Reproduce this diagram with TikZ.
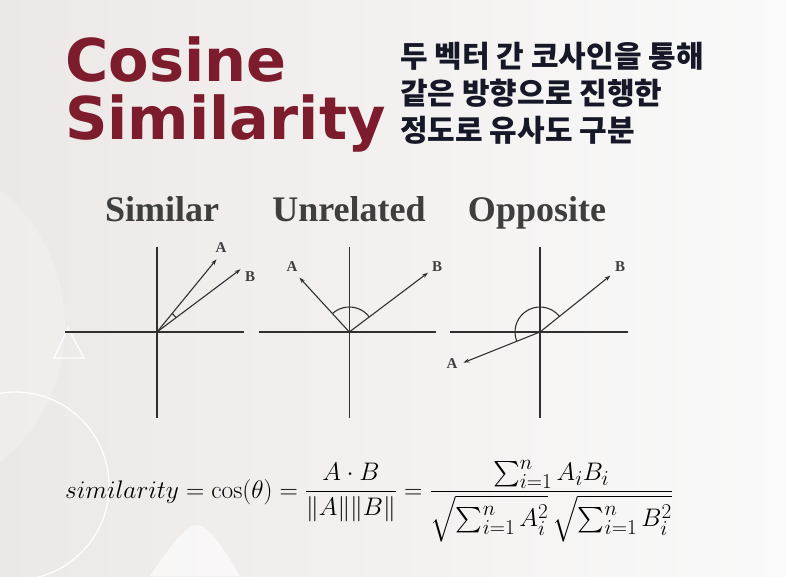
\documentclass[tikz,border=0pt]{standalone}
\usepackage{amsmath}
\usepackage{fontspec}
\usetikzlibrary{arrows.meta, calc}
\newfontfamily\titlefont{DejaVu Sans}
\newfontfamily\krfont{Noto Sans CJK KR}
\newfontfamily\headfont{Liberation Serif}
\definecolor{titlered}{RGB}{124, 28, 44}
\definecolor{krnavy}{RGB}{22, 24, 40}
\definecolor{headgray}{RGB}{62, 62, 62}
\definecolor{axisgray}{RGB}{48, 48, 48}
\definecolor{bgleft}{RGB}{236, 232, 230}
\definecolor{bgright}{RGB}{250, 250, 250}

\begin{document}
\begin{tikzpicture}[x=1pt, y=1pt,
  axisline/.style={axisgray, line width=1.6pt},
  vecline/.style={axisgray, line width=1.1pt, -{Stealth[length=6pt, width=4pt]}},
  anglearc/.style={axisgray, line width=1.1pt},
  veclabel/.style={headgray, font=\headfont\bfseries\fontsize{15}{15}\selectfont, inner sep=0pt},
  heading/.style={headgray, font=\headfont\bfseries\fontsize{36}{36}\selectfont, anchor=base, inner sep=0pt},
  titletext/.style={titlered, font=\titlefont\bfseries\fontsize{59}{59}\selectfont, anchor=base west, inner sep=0pt}]
  \useasboundingbox (0,0) rectangle (786,576);
  % background
  \shade[left color=bgleft, right color=bgright] (0,0) rectangle (786,576);
  \fill[white, opacity=0.2] (-110,250) circle (175);
  \draw[white, line width=1.2pt] (15,90) circle (94);
  \draw[white, line width=1.2pt] (68,248) -- (54,218) -- (84,218) -- cycle;
  \fill[white, opacity=0.6] (150,0) .. controls (170,30) and (185,50) .. (197,51)
    .. controls (210,50) and (225,25) .. (240,0) -- cycle;

  % title
  \node[titletext] (cosine) at (65,494) {Cosine};
  \node[titletext] (similarity) at (65,436) {Similarity};
  \node[krnavy, font=\krfont\bfseries\fontsize{30}{37}\selectfont, anchor=north west,
    align=left, inner sep=0pt] (desc) at (400,534)
    {두 벡터 간 코사인을 통해\\같은 방향으로 진행한\\정도로 유사도 구분};

  % headings
  \node[heading] (hsim) at (162,354) {Similar};
  \node[heading] (hunrel) at (349,354) {Unrelated};
  \node[heading] (hopp) at (537,354) {Opposite};

  % similar
  \coordinate (O1) at (157,244);
  \coordinate (A1) at ($(O1)+(50.7:94)$);
  \coordinate (B1) at ($(O1)+(36.9:104.5)$);
  \draw[axisline] (65,244) -- (244,244);
  \draw[axisline] (157,329) -- (157,158);
  \draw[vecline] (O1) -- (A1);
  \draw[vecline] (O1) -- (B1);
  \draw[anglearc] ($(O1)+(36.9:24)$) arc[start angle=36.9, end angle=50.7, radius=24];
  \node[veclabel] (lA1) at (221,328) {A};
  \node[veclabel] (lB1) at (250,299) {B};

  % unrelated
  \coordinate (O2) at (349.3,244);
  \coordinate (A2) at ($(O2)+(132.5:73.8)$);
  \coordinate (B2) at ($(O2)+(37:98.6)$);
  \draw[axisline] (258.6,244) -- (435.8,244);
  \draw[axisline] (349.3,329) -- (349.3,158);
  \draw[vecline] (O2) -- (A2);
  \draw[vecline] (O2) -- (B2);
  \draw[anglearc] ($(O2)+(37:25)$) arc[start angle=37, end angle=132.5, radius=25];
  \node[veclabel] (lA2) at (292,309) {A};
  \node[veclabel] (lB2) at (437,309) {B};

  % opposite
  \coordinate (O3) at (540,244);
  \coordinate (A3) at ($(O3)+(201.8:82.5)$);
  \coordinate (B3) at ($(O3)+(38.7:90.3)$);
  \draw[axisline] (450,244) -- (628,244);
  \draw[axisline] (540,329) -- (540,158);
  \draw[vecline] (O3) -- (A3);
  \draw[vecline] (O3) -- (B3);
  \draw[anglearc] ($(O3)+(38.7:25)$) arc[start angle=38.7, end angle=201.8, radius=25];
  \node[veclabel] (lA3) at (452,212) {A};
  \node[veclabel] (lB3) at (620,309) {B};

  % formula
  \node[anchor=base west, inner sep=0pt, font=\Huge, scale=1.02] (formula) at (65,78)
    {$\displaystyle similarity = \cos(\theta) = \frac{A\cdot B}{\lVert A\rVert\lVert B\rVert}
    = \frac{\sum_{i=1}^{n} A_iB_i}{\sqrt{\sum_{i=1}^{n} A_i^2}\,\sqrt{\sum_{i=1}^{n} B_i^2}}$};
\end{tikzpicture}
\end{document}
